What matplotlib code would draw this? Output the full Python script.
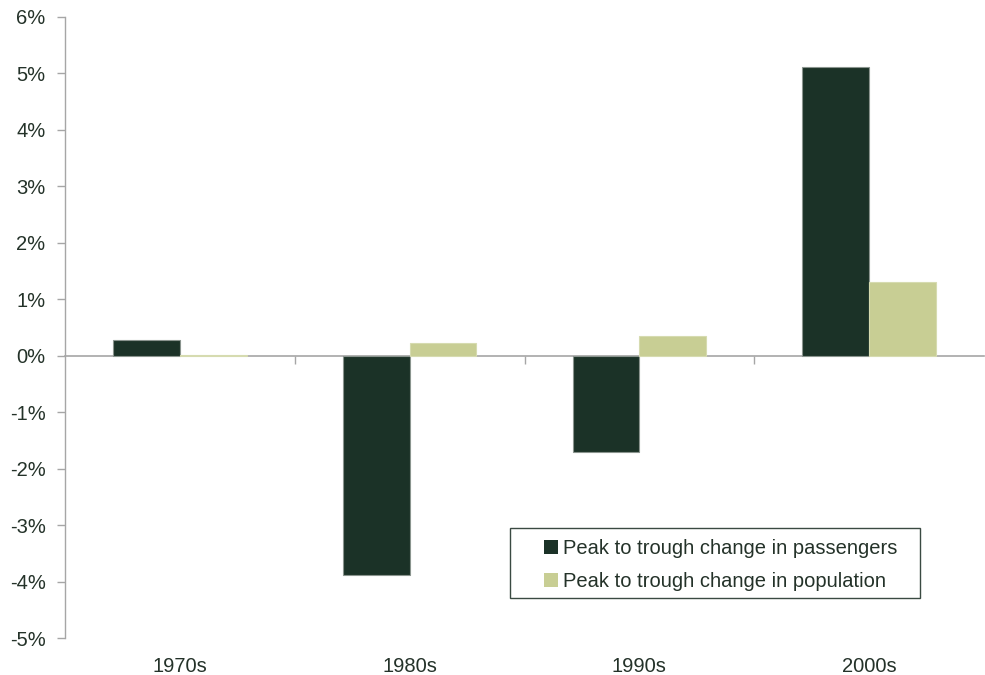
import matplotlib
matplotlib.use("Agg")
import matplotlib.pyplot as plt
from matplotlib.patches import Rectangle
import numpy as np

plt.rcParams['font.family'] = ['Liberation Sans', 'DejaVu Sans']

categories = ["1970s", "1980s", "1990s", "2000s"]
passengers = [0.28, -3.89, -1.71, 5.11]
population = [0.01, 0.23, 0.35, 1.31]
yticks = [-5, -4, -3, -2, -1, 0, 1, 2, 3, 4, 5, 6]

dark = "#1b3227"
light = "#c8ce94"
text_col = "#243229"
grey = "#a6a6a6"
fs = 14.5

fig = plt.figure(figsize=(9.85, 6.75), dpi=100)
ax = fig.add_axes([65/985, 1-638/675, (984-65)/985, (638-17)/675])

x = np.arange(len(categories))
w = 0.29
ax.bar(x - w/2, passengers, w, color=dark, edgecolor="#8a948e", linewidth=0.8,
       label="Peak to trough change in passengers", zorder=3)
ax.bar(x + w/2, population, w, color=light, edgecolor="#d6dbb0", linewidth=0.8,
       label="Peak to trough change in population", zorder=3)

ax.set_xlim(-0.5, len(categories) - 0.5)
ax.set_ylim(-5, 6)
ax.set_yticks(yticks)
ax.set_yticklabels([f"{t}%" for t in yticks], fontsize=fs, color=text_col)
ax.tick_params(axis='y', direction='out', length=6, color=grey, width=1, pad=8)

for s in ['top', 'right', 'bottom']:
    ax.spines[s].set_visible(False)
ax.spines['left'].set_color(grey)
ax.spines['left'].set_linewidth(1)

ax.set_xticks(x)
ax.set_xticklabels(categories, fontsize=fs, color=text_col)
ax.tick_params(axis='x', length=0, pad=14)

sec = ax.secondary_xaxis(5/11)
sec.set_xticks(np.arange(len(categories) - 1) + 0.5)
sec.set_xticklabels([])
sec.tick_params(axis='x', direction='out', length=6, color=grey, width=1)
sec.spines['bottom'].set_color(grey)
sec.spines['bottom'].set_linewidth(1.2)
sec.spines['top'].set_visible(False)
for s in ['left', 'right']:
    sec.spines[s].set_visible(False)

# legend frame
fig.patches.append(Rectangle((510/985, 1-598/675), 410/985, 70/675,
                             transform=fig.transFigure, fill=False,
                             edgecolor="#3a4a42", linewidth=1, zorder=5))

leg = ax.legend(loc='upper left', bbox_to_anchor=(544/985, 1-539/675),
                bbox_transform=fig.transFigure, fontsize=fs, frameon=False,
                handlelength=0.7, handleheight=0.7,
                handletextpad=0.25, borderpad=0, labelspacing=0.7,
                borderaxespad=0, labelcolor=text_col)
for h in leg.legend_handles:
    h.set_edgecolor('none')

fig.savefig("out.png", dpi=100)
